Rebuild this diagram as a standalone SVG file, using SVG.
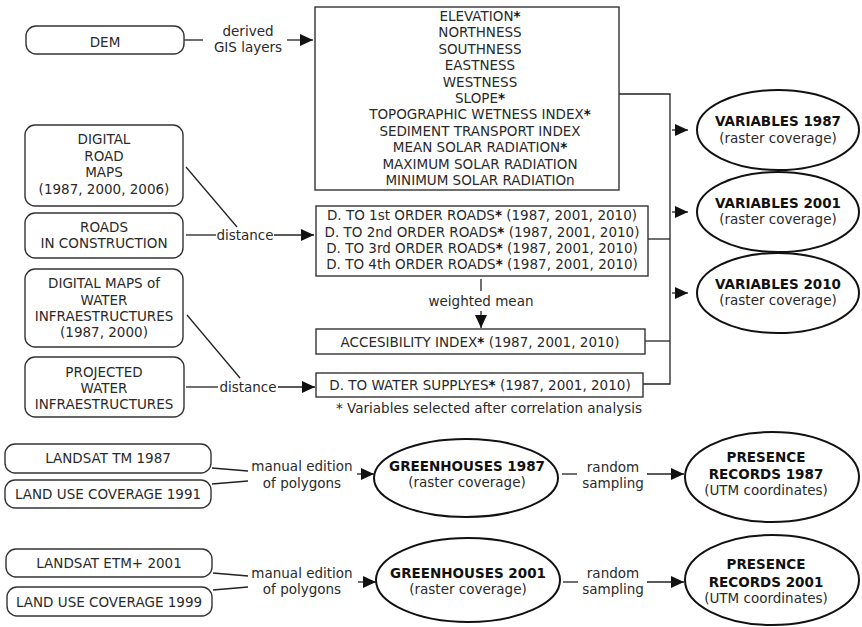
<svg xmlns="http://www.w3.org/2000/svg" width="862" height="627" viewBox="0 0 862 627">
<defs>
<marker id="ah" markerUnits="userSpaceOnUse" markerWidth="14" markerHeight="12" refX="13" refY="6" orient="auto">
<path d="M0,0 L13,6 L0,12 Z" fill="#111"/>
</marker>
<style>
text{font-family:"DejaVu Sans","Verdana",sans-serif;font-size:13.5px;fill:#2a2a2a;text-anchor:middle}
.b{font-weight:bold;fill:#111}
.rr{fill:#fff;stroke:#333;stroke-width:1.4}
.bx{fill:#fff;stroke:#333;stroke-width:1.4}
.el{fill:#fff;stroke:#111;stroke-width:2}
.ln{fill:none;stroke:#222;stroke-width:1.3}
.ar{fill:none;stroke:#222;stroke-width:1.3;marker-end:url(#ah)}
</style>
</defs>
<rect width="862" height="627" fill="#fff"/>

<g id="connectors">
<line class="ln" x1="184" y1="40" x2="203" y2="40"/>
<line class="ar" x1="287" y1="40" x2="313" y2="40"/>
<line class="ln" x1="186" y1="167" x2="237" y2="227"/>
<line class="ln" x1="186" y1="235" x2="216" y2="235"/>
<line class="ar" x1="274" y1="235" x2="314" y2="235"/>
<line class="ln" x1="187" y1="315" x2="240" y2="378"/>
<line class="ln" x1="186" y1="387" x2="218" y2="387"/>
<line class="ar" x1="278" y1="387" x2="315" y2="387"/>
<line class="ln" x1="481" y1="279" x2="481" y2="291"/>
<line class="ar" x1="481" y1="311" x2="481" y2="328"/>
<polyline class="ln" points="619,94 670,94 670,384 643,384"/>
<line class="ln" x1="648" y1="239" x2="670" y2="239"/>
<line class="ln" x1="645" y1="341" x2="670" y2="341"/>
<line class="ar" x1="672" y1="130" x2="688" y2="130"/>
<line class="ar" x1="672" y1="212" x2="688" y2="212"/>
<line class="ar" x1="672" y1="293" x2="688" y2="293"/>
<line class="ln" x1="212" y1="468" x2="248" y2="471"/>
<line class="ln" x1="212" y1="484" x2="248" y2="481"/>
<line class="ar" x1="357" y1="474" x2="374" y2="474"/>
<line class="ln" x1="562" y1="474" x2="577" y2="474"/>
<line class="ar" x1="647" y1="474" x2="684" y2="474"/>
<line class="ln" x1="213" y1="573" x2="248" y2="576"/>
<line class="ln" x1="213" y1="590" x2="248" y2="587"/>
<line class="ar" x1="358" y1="582" x2="376" y2="582"/>
<line class="ln" x1="563" y1="582" x2="578" y2="582"/>
<line class="ar" x1="647" y1="582" x2="684" y2="582"/>
</g>

<g id="labels">
<text x="248" y="36">derived</text>
<text x="248" y="52">GIS layers</text>
<text x="245" y="240">distance</text>
<text x="248" y="392">distance</text>
<text x="481" y="306">weighted mean</text>
<text x="302" y="471">manual edition</text>
<text x="302" y="488">of polygons</text>
<text x="613" y="472">random</text>
<text x="613" y="488">sampling</text>
<text x="302" y="578">manual edition</text>
<text x="302" y="594">of polygons</text>
<text x="613" y="578">random</text>
<text x="613" y="594">sampling</text>
<text x="489" y="413">* Variables selected after correlation analysis</text>
</g>

<g id="dem">
<rect class="rr" x="26" y="26" width="158" height="28" rx="10"/>
<text x="105" y="47">DEM</text>
</g>

<g id="gis-layers">
<rect class="bx" x="315" y="7" width="304" height="183"/>
<text x="480" y="21">ELEVATION<tspan class="b">*</tspan></text>
<text x="480" y="37.4">NORTHNESS</text>
<text x="480" y="53.8">SOUTHNESS</text>
<text x="480" y="70.2">EASTNESS</text>
<text x="480" y="86.6">WESTNESS</text>
<text x="480" y="103">SLOPE<tspan class="b">*</tspan></text>
<text x="480" y="119.4">TOPOGRAPHIC WETNESS INDEX<tspan class="b">*</tspan></text>
<text x="480" y="135.8">SEDIMENT TRANSPORT INDEX</text>
<text x="480" y="152.2">MEAN SOLAR RADIATION<tspan class="b">*</tspan></text>
<text x="480" y="168.6">MAXIMUM SOLAR RADIATION</text>
<text x="480" y="185">MINIMUM SOLAR RADIATIOn</text>
</g>

<g id="road-maps">
<rect class="rr" x="25" y="125" width="158" height="81" rx="10"/>
<text x="104" y="144">DIGITAL</text>
<text x="104" y="161">ROAD</text>
<text x="104" y="177">MAPS</text>
<text x="104" y="194">(1987, 2000, 2006)</text>
</g>

<g id="roads-construction">
<rect class="rr" x="25" y="213" width="158" height="45" rx="10"/>
<text x="104" y="232">ROADS</text>
<text x="104" y="248">IN CONSTRUCTION</text>
</g>

<g id="water-maps">
<rect class="rr" x="25" y="269" width="158" height="78" rx="10"/>
<text x="104" y="288">DIGITAL MAPS of</text>
<text x="104" y="305">WATER</text>
<text x="104" y="321">INFRAESTRUCTURES</text>
<text x="104" y="337">(1987, 2000)</text>
</g>

<g id="projected-water">
<rect class="rr" x="25" y="357" width="159" height="60" rx="10"/>
<text x="104" y="377">PROJECTED</text>
<text x="104" y="393">WATER</text>
<text x="104" y="409">INFRAESTRUCTURES</text>
</g>

<g id="road-distances">
<rect class="bx" x="316" y="206" width="332" height="70"/>
<text x="482" y="220">D. TO 1st ORDER ROADS<tspan class="b">*</tspan> (1987, 2001, 2010)</text>
<text x="482" y="237">D. TO 2nd ORDER ROADS<tspan class="b">*</tspan> (1987, 2001, 2010)</text>
<text x="482" y="253">D. TO 3rd ORDER ROADS<tspan class="b">*</tspan> (1987, 2001, 2010)</text>
<text x="482" y="269">D. TO 4th ORDER ROADS<tspan class="b">*</tspan> (1987, 2001, 2010)</text>
</g>

<g id="accessibility">
<rect class="bx" x="316" y="329" width="329" height="25"/>
<text x="480" y="347">ACCESIBILITY INDEX<tspan class="b">*</tspan> (1987, 2001, 2010)</text>
</g>

<g id="water-distance">
<rect class="bx" x="316" y="373" width="327" height="24"/>
<text x="480" y="390">D. TO WATER SUPPLYES<tspan class="b">*</tspan> (1987, 2001, 2010)</text>
</g>

<g id="variables-1987">
<ellipse class="el" cx="778" cy="130" rx="81" ry="40"/>
<text class="b" x="778" y="126">VARIABLES 1987</text>
<text x="778" y="143">(raster coverage)</text>
</g>

<g id="variables-2001">
<ellipse class="el" cx="778" cy="212" rx="81" ry="40"/>
<text class="b" x="778" y="208">VARIABLES 2001</text>
<text x="778" y="224">(raster coverage)</text>
</g>

<g id="variables-2010">
<ellipse class="el" cx="778" cy="293" rx="81" ry="40"/>
<text class="b" x="778" y="289">VARIABLES 2010</text>
<text x="778" y="305">(raster coverage)</text>
</g>

<g id="landsat-1987">
<rect class="rr" x="5" y="444" width="206" height="29" rx="10"/>
<text x="108" y="463">LANDSAT TM 1987</text>
</g>

<g id="landuse-1991">
<rect class="rr" x="5" y="480" width="206" height="28" rx="10"/>
<text x="108" y="499">LAND USE COVERAGE 1991</text>
</g>

<g id="greenhouses-1987">
<ellipse class="el" cx="466" cy="478" rx="92" ry="39"/>
<text class="b" x="467" y="471">GREENHOUSES 1987</text>
<text x="467" y="487">(raster coverage)</text>
</g>

<g id="presence-1987">
<ellipse class="el" cx="772" cy="477" rx="87" ry="45"/>
<text class="b" x="766" y="462">PRESENCE</text>
<text class="b" x="766" y="479">RECORDS 1987</text>
<text x="766" y="495">(UTM coordinates)</text>
</g>

<g id="landsat-2001">
<rect class="rr" x="6" y="549" width="206" height="28" rx="10"/>
<text x="109" y="568">LANDSAT ETM+ 2001</text>
</g>

<g id="landuse-1999">
<rect class="rr" x="7" y="587" width="205" height="29" rx="10"/>
<text x="109" y="607">LAND USE COVERAGE 1999</text>
</g>

<g id="greenhouses-2001">
<ellipse class="el" cx="468" cy="580" rx="92" ry="42"/>
<text class="b" x="468" y="578">GREENHOUSES 2001</text>
<text x="468" y="594">(raster coverage)</text>
</g>

<g id="presence-2001">
<ellipse class="el" cx="772" cy="580" rx="87" ry="45"/>
<text class="b" x="766" y="569">PRESENCE</text>
<text class="b" x="766" y="587">RECORDS 2001</text>
<text x="766" y="603">(UTM coordinates)</text>
</g>
</svg>
